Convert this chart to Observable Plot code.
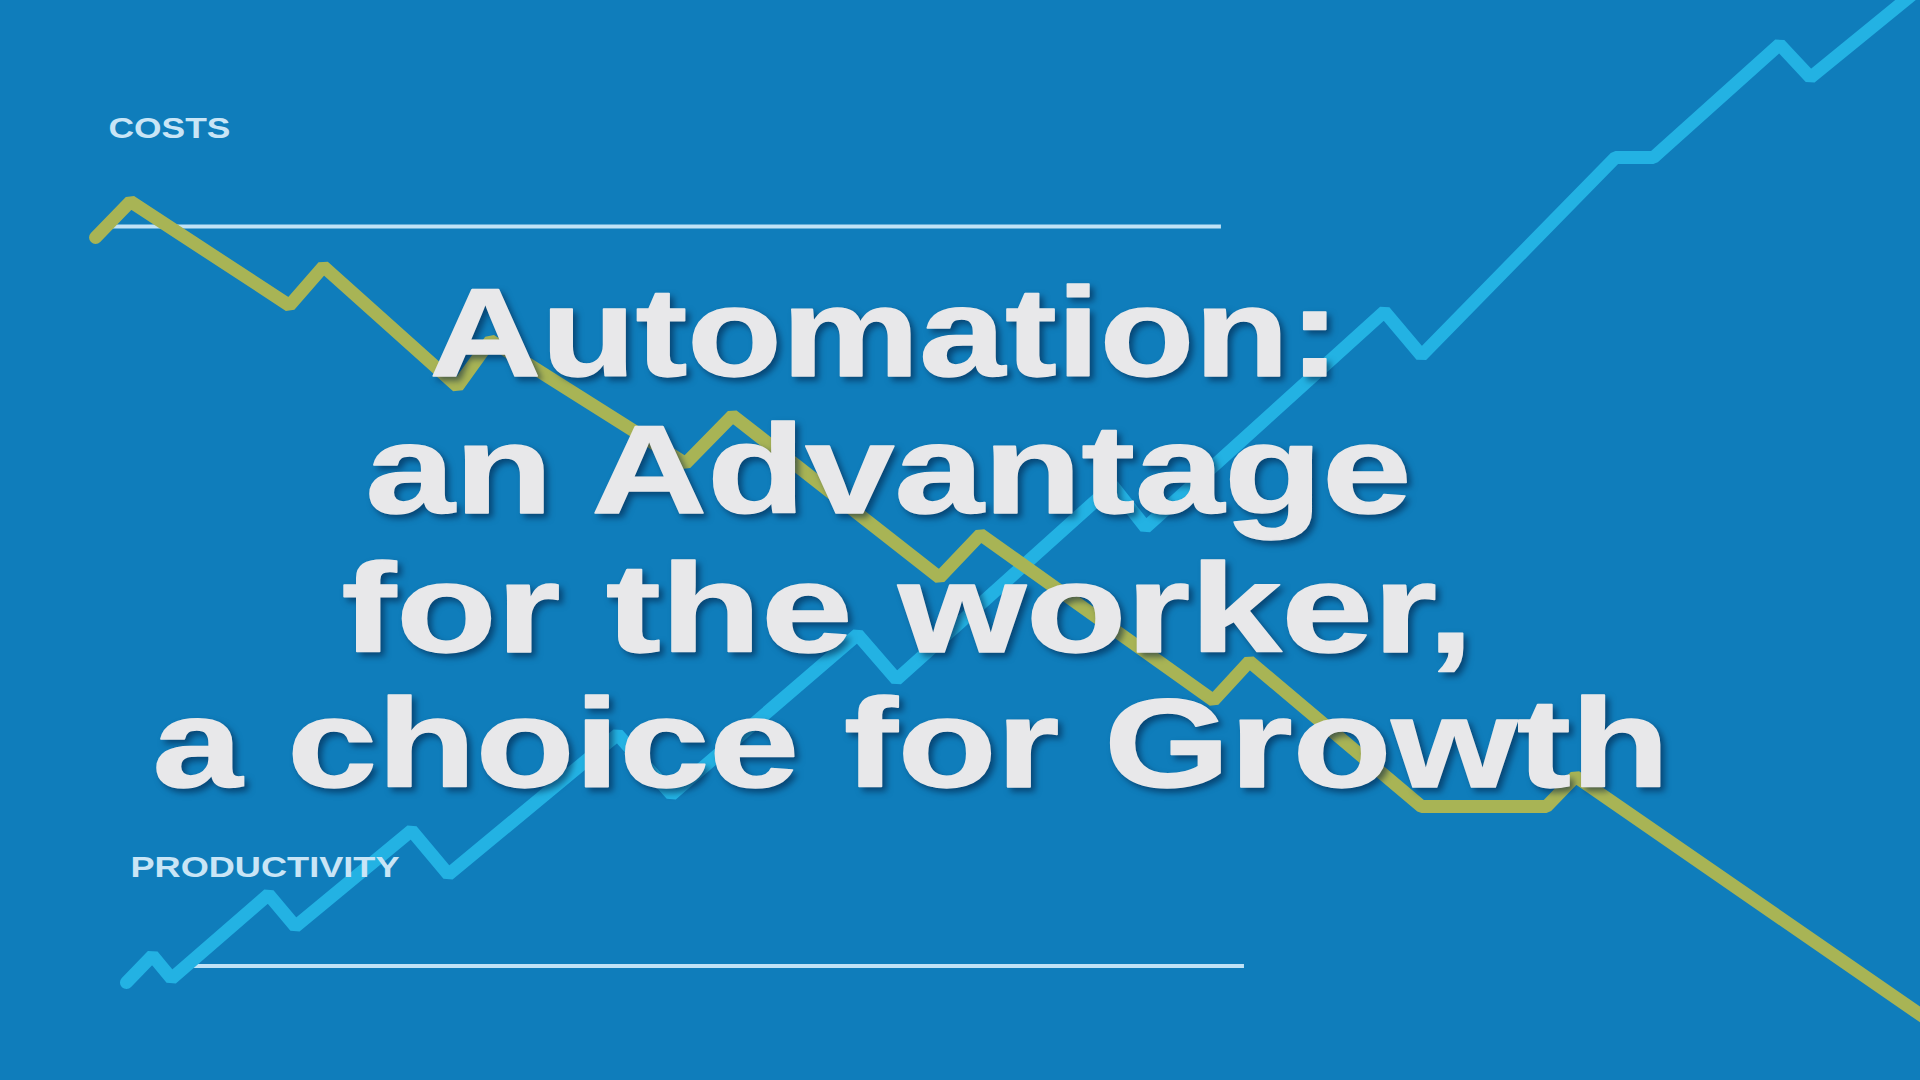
<!DOCTYPE html>
<html>
<head>
<meta charset="utf-8">
<script src="https://cdn.jsdelivr.net/npm/d3@7"></script>
<script src="https://cdn.jsdelivr.net/npm/@observablehq/plot@0.6"></script>
<style>
  html, body { margin: 0; padding: 0; background: #0f7dbb; overflow: hidden; }
  #chart svg { display: block; }
</style>
</head>
<body>
<div id="chart"></div>
<script>
// ---- Data (time index 0–100, value 0–100) ----
const costsTime  = [4.95, 6.77, 15.05, 16.82, 23.80, 25.52, 35.68, 38.13, 48.91, 51.04, 63.18, 65.05, 74.01, 80.52, 82.03, 100.8];
const costsValue = [78.06, 81.39, 71.76, 75.37, 64.26, 68.52, 57.13, 61.57, 46.57, 50.56, 35.19, 38.80, 25.37, 25.37, 28.15, 5.1];

const prodTime  = [6.56, 7.92, 8.91, 13.96, 15.36, 21.41, 23.33, 32.14, 34.95, 44.64, 46.67, 57.92, 59.64, 72.08, 74.01, 84.11, 86.09, 92.66, 94.27, 100.78];
const prodValue = [9.07, 11.57, 9.44, 17.22, 14.26, 23.15, 19.07, 32.04, 26.48, 41.30, 37.13, 55.09, 51.20, 71.20, 67.13, 85.46, 85.46, 95.93, 92.87, 102.31];

const titleLines   = ["Automation:", "an Advantage", "for the worker,", "a choice for Growth"];
const seriesLabels = ["COSTS", "PRODUCTIVITY"];

// ---- Layout (positions / sizes / styles) ----
const titleX     = [22.34, 19.01, 17.76, 7.92];
const titleY     = [65.19, 52.59, 39.72, 27.13];
const titleWidth = [911, 1046, 1132, 1517];
const labelX     = [5.625, 6.77];
const labelY     = [87.31, 18.80];
const labelWidth = [122, 269];
const ruleY      = [79.07, 10.6];
const ruleX1     = [5.78, 10.05];
const ruleX2     = [63.59, 64.79];

const colors = {
  bg: "#0f7dbb",
  costs: "#a8b455",
  prod: "#23b2e3",
  rule: "#c0e2f6",
  label: "#c9e5f6",
  title: "#e8e8ea"
};

const costs = costsTime.map((t, i) => ({t, v: costsValue[i]}));
const prod  = prodTime.map((t, i) => ({t, v: prodValue[i]}));
const titles = titleLines.map((text, i) => ({text, x: titleX[i], y: titleY[i], w: titleWidth[i]}));
const labels = seriesLabels.map((text, i) => ({text, x: labelX[i], y: labelY[i], w: labelWidth[i]}));
const rules = ruleY.map((y, i) => ({y, x1: ruleX1[i], x2: ruleX2[i]}));

const font = "'Liberation Sans', Arial, Helvetica, sans-serif";

const plot = Plot.plot({
  width: 1920,
  height: 1080,
  margin: 0,
  x: {domain: [0, 100], range: [0, 1920], axis: null},
  y: {domain: [0, 100], range: [1080, 0], axis: null},
  style: {background: colors.bg, fontFamily: font, overflow: "hidden"},
  marks: [
    Plot.ruleY(rules, {y: "y", x1: "x1", x2: "x2", stroke: colors.rule, strokeWidth: 4}),
    Plot.line(prod, {x: "t", y: "v", stroke: colors.prod, strokeWidth: 13, strokeLinejoin: "miter", strokeLinecap: "round", clip: true}),
    Plot.line(costs, {x: "t", y: "v", stroke: colors.costs, strokeWidth: 13, strokeLinejoin: "miter", strokeLinecap: "round", clip: true}),
    Plot.text(titles, {x: "x", y: "y", text: "text", textAnchor: "start", lineAnchor: "bottom",
      fontSize: 126, fontWeight: "bold", fill: colors.title, stroke: colors.title, strokeWidth: 1.5}),
    Plot.text(labels, {x: "x", y: "y", text: "text", textAnchor: "start", lineAnchor: "bottom",
      fontSize: 29, fontWeight: "bold", fill: colors.label})
  ]
});

document.getElementById("chart").appendChild(plot);

// Stretch glyphs horizontally to match the wide typeface of the original
const textGroups = plot.querySelectorAll('g[aria-label="text"]');
const titleGroup = textGroups[0];
const labelGroup = textGroups[1];
titleGroup.style.filter = "drop-shadow(4px 4px 3px rgba(0, 25, 60, 0.55))";
titleGroup.querySelectorAll("text").forEach((el, i) => {
  el.setAttribute("textLength", titles[i].w);
  el.setAttribute("lengthAdjust", "spacingAndGlyphs");
});
labelGroup.querySelectorAll("text").forEach((el, i) => {
  el.setAttribute("textLength", labels[i].w);
  el.setAttribute("lengthAdjust", "spacingAndGlyphs");
});
</script>
</body>
</html>
